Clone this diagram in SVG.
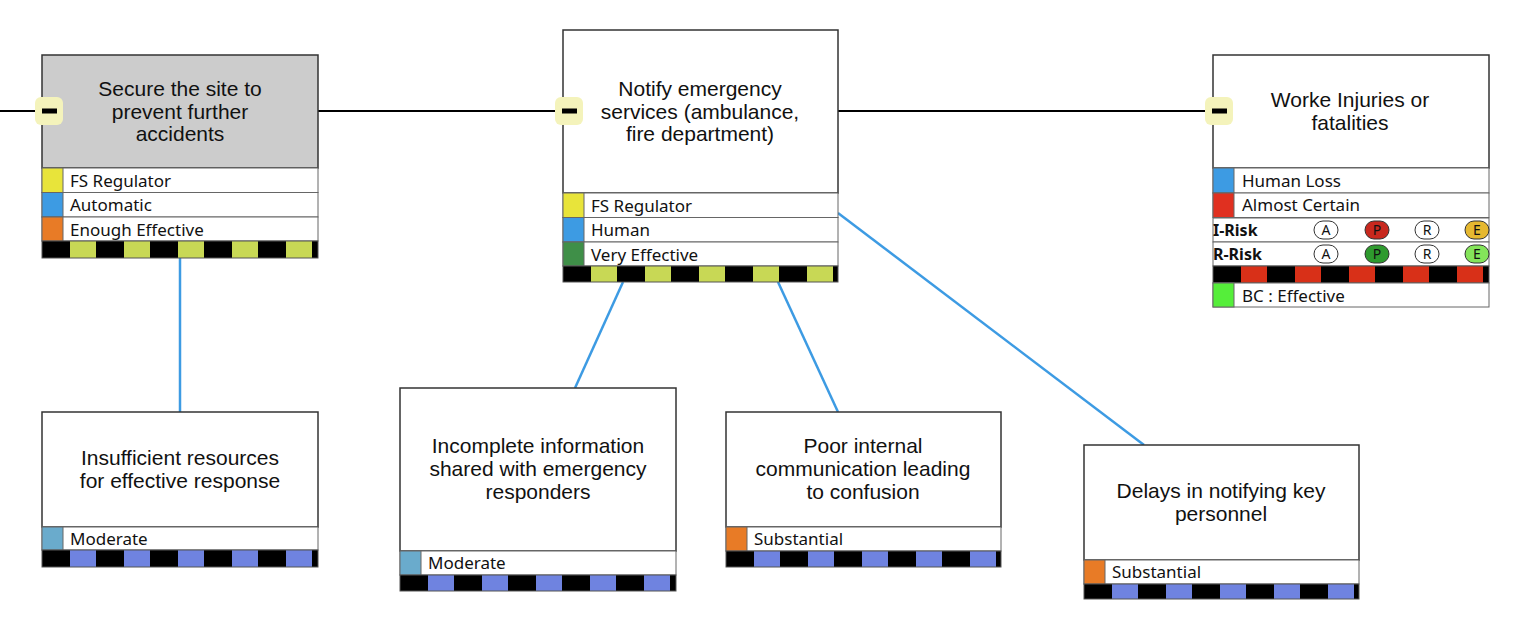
<svg xmlns="http://www.w3.org/2000/svg" width="1514" height="620" viewBox="0 0 1514 620">
<style>
.box{stroke:#333;stroke-width:1.5}
.row{fill:#fff;stroke:#666;stroke-width:1}
.t{font-family:"Liberation Sans",Arial,sans-serif;font-size:21px;fill:#111;text-anchor:middle}
.r{font-family:"Noto Sans","DejaVu Sans",sans-serif;font-size:17px;fill:#111}
.b{font-family:"Noto Sans","DejaVu Sans",sans-serif;font-size:16px;font-weight:bold;fill:#111}
.p{font-family:"Noto Sans","DejaVu Sans",sans-serif;font-size:14px;fill:#111;text-anchor:middle}
.pill{stroke:#333;stroke-width:1}
.badge{fill:#f4f3bb}
.ln{stroke:#3d9be3;stroke-width:2.5;fill:none}
</style>
<defs>
<pattern id="pg1" patternUnits="userSpaceOnUse" x="42" y="0" width="54" height="620"><rect width="54" height="620" fill="#c8d855"/><rect width="28" height="620" fill="#000"/></pattern>
<pattern id="pg2" patternUnits="userSpaceOnUse" x="563" y="0" width="54" height="620"><rect width="54" height="620" fill="#c8d855"/><rect width="28" height="620" fill="#000"/></pattern>
<pattern id="pr3" patternUnits="userSpaceOnUse" x="1213" y="0" width="54" height="620"><rect width="54" height="620" fill="#d83018"/><rect width="28" height="620" fill="#000"/></pattern>
<pattern id="pb1" patternUnits="userSpaceOnUse" x="42" y="0" width="54" height="620"><rect width="54" height="620" fill="#6f83e0"/><rect width="28" height="620" fill="#000"/></pattern>
<pattern id="pb2" patternUnits="userSpaceOnUse" x="400" y="0" width="54" height="620"><rect width="54" height="620" fill="#6f83e0"/><rect width="28" height="620" fill="#000"/></pattern>
<pattern id="pb3" patternUnits="userSpaceOnUse" x="726" y="0" width="54" height="620"><rect width="54" height="620" fill="#6f83e0"/><rect width="28" height="620" fill="#000"/></pattern>
<pattern id="pb4" patternUnits="userSpaceOnUse" x="1084" y="0" width="54" height="620"><rect width="54" height="620" fill="#6f83e0"/><rect width="28" height="620" fill="#000"/></pattern>
</defs>
<rect width="1514" height="620" fill="#fff"/>
<g id="connectors">
<line x1="0" y1="111" x2="1213" y2="111" stroke="#000" stroke-width="2"/>
<line class="ln" x1="180" y1="258" x2="180" y2="412"/>
<line class="ln" x1="623" y1="282" x2="575" y2="388"/>
<line class="ln" x1="778" y1="282" x2="838" y2="412"/>
<line class="ln" x1="838" y1="213" x2="1144" y2="445"/>
</g>
<g id="n1">
<rect class="box" x="42" y="55" width="276" height="113" fill="#cccccc"/>
<text class="t" x="180" y="96">Secure the site to</text>
<text class="t" x="180" y="119">prevent further</text>
<text class="t" x="180" y="141">accidents</text>
<rect class="row" x="42" y="168" width="276" height="24.5"/><rect x="42" y="168" width="21" height="24.5" fill="#e8e43a" stroke="#666"/><text class="r" x="70" y="187">FS Regulator</text>
<rect class="row" x="42" y="192.5" width="276" height="24.5"/><rect x="42" y="192.5" width="21" height="24.5" fill="#3d9be3" stroke="#666"/><text class="r" x="70" y="211">Automatic</text>
<rect class="row" x="42" y="217" width="276" height="24"/><rect x="42" y="217" width="21" height="24" fill="#e87b26" stroke="#666"/><text class="r" x="70" y="236">Enough Effective</text>
<rect x="42" y="241" width="276" height="17" fill="url(#pg1)" stroke="#555"/>
<rect class="badge" x="35" y="97" width="28" height="28" rx="6"/><rect x="42" y="108.5" width="15" height="5" fill="#000"/>
</g>
<g id="n2">
<rect class="box" x="563" y="30" width="275" height="163" fill="#fff"/>
<text class="t" x="700" y="96">Notify emergency</text>
<text class="t" x="700" y="119">services (ambulance,</text>
<text class="t" x="700" y="141">fire department)</text>
<rect class="row" x="563" y="193" width="275" height="24.5"/><rect x="563" y="193" width="21" height="24.5" fill="#e8e43a" stroke="#666"/><text class="r" x="591" y="212">FS Regulator</text>
<rect class="row" x="563" y="217.5" width="275" height="24.5"/><rect x="563" y="217.5" width="21" height="24.5" fill="#3d9be3" stroke="#666"/><text class="r" x="591" y="236">Human</text>
<rect class="row" x="563" y="242" width="275" height="24"/><rect x="563" y="242" width="21" height="24" fill="#3f8f48" stroke="#666"/><text class="r" x="591" y="261">Very Effective</text>
<rect x="563" y="266" width="275" height="16" fill="url(#pg2)" stroke="#555"/>
<rect class="badge" x="555" y="97" width="28" height="28" rx="6"/><rect x="562" y="108.5" width="15" height="5" fill="#000"/>
</g>
<g id="n3">
<rect class="box" x="1213" y="55" width="276" height="113" fill="#fff"/>
<text class="t" x="1350" y="107">Worke Injuries or</text>
<text class="t" x="1350" y="130">fatalities</text>
<rect class="row" x="1213" y="168" width="276" height="25"/><rect x="1213" y="168" width="21" height="25" fill="#3d9be3" stroke="#666"/><text class="r" x="1242" y="187">Human Loss</text>
<rect class="row" x="1213" y="193" width="276" height="24.5"/><rect x="1213" y="193" width="21" height="24.5" fill="#e03020" stroke="#666"/><text class="r" x="1242" y="211">Almost Certain</text>
<rect class="row" x="1213" y="218" width="276" height="24"/><text class="b" x="1213" y="236">I-Risk</text>
<rect class="pill" x="1314" y="221" width="24" height="18" rx="9" fill="#fff"/><text class="p" x="1326" y="235">A</text>
<rect class="pill" x="1365" y="221" width="24" height="18" rx="9" fill="#c8281e"/><text class="p" x="1377" y="235">P</text>
<rect class="pill" x="1415" y="221" width="24" height="18" rx="9" fill="#fff"/><text class="p" x="1427" y="235">R</text>
<rect class="pill" x="1465" y="221" width="24" height="18" rx="9" fill="#e6b830"/><text class="p" x="1477" y="235">E</text>
<rect class="row" x="1213" y="242" width="276" height="24"/><text class="b" x="1213" y="260">R-Risk</text>
<rect class="pill" x="1314" y="245" width="24" height="18" rx="9" fill="#fff"/><text class="p" x="1326" y="259">A</text>
<rect class="pill" x="1365" y="245" width="24" height="18" rx="9" fill="#2e9a2e"/><text class="p" x="1377" y="259">P</text>
<rect class="pill" x="1415" y="245" width="24" height="18" rx="9" fill="#fff"/><text class="p" x="1427" y="259">R</text>
<rect class="pill" x="1465" y="245" width="24" height="18" rx="9" fill="#84e45a"/><text class="p" x="1477" y="259">E</text>
<rect x="1213" y="266" width="276" height="17" fill="url(#pr3)" stroke="#555"/>
<rect class="row" x="1213" y="283" width="276" height="24"/><rect x="1213" y="283" width="21" height="24" fill="#55ee3a" stroke="#666"/><text class="r" x="1242" y="302">BC : Effective</text>
<rect class="badge" x="1205" y="97" width="28" height="28" rx="6"/><rect x="1212" y="108.5" width="15" height="5" fill="#000"/>
</g>
<g id="b1">
<rect class="box" x="42" y="412" width="276" height="115" fill="#fff"/>
<text class="t" x="180" y="465">Insufficient resources</text>
<text class="t" x="180" y="488">for effective response</text>
<rect class="row" x="42" y="527" width="276" height="23"/><rect x="42" y="527" width="21" height="23" fill="#6aabcc" stroke="#666"/><text class="r" x="70" y="545">Moderate</text>
<rect x="42" y="550" width="276" height="17" fill="url(#pb1)" stroke="#555"/>
</g>
<g id="b2">
<rect class="box" x="400" y="388" width="276" height="163" fill="#fff"/>
<text class="t" x="538" y="453">Incomplete information</text>
<text class="t" x="538" y="476">shared with emergency</text>
<text class="t" x="538" y="499">responders</text>
<rect class="row" x="400" y="551" width="276" height="24"/><rect x="400" y="551" width="21" height="24" fill="#6aabcc" stroke="#666"/><text class="r" x="428" y="569">Moderate</text>
<rect x="400" y="575" width="276" height="16" fill="url(#pb2)" stroke="#555"/>
</g>
<g id="b3">
<rect class="box" x="726" y="412" width="275" height="115" fill="#fff"/>
<text class="t" x="863" y="453">Poor internal</text>
<text class="t" x="863" y="476">communication leading</text>
<text class="t" x="863" y="499">to confusion</text>
<rect class="row" x="726" y="527" width="275" height="24"/><rect x="726" y="527" width="21" height="24" fill="#e87b26" stroke="#666"/><text class="r" x="754" y="545">Substantial</text>
<rect x="726" y="551" width="275" height="16" fill="url(#pb3)" stroke="#555"/>
</g>
<g id="b4">
<rect class="box" x="1084" y="445" width="275" height="115" fill="#fff"/>
<text class="t" x="1221" y="498">Delays in notifying key</text>
<text class="t" x="1221" y="521">personnel</text>
<rect class="row" x="1084" y="560" width="275" height="24"/><rect x="1084" y="560" width="21" height="24" fill="#e87b26" stroke="#666"/><text class="r" x="1112" y="578">Substantial</text>
<rect x="1084" y="584" width="275" height="15" fill="url(#pb4)" stroke="#555"/>
</g>
</svg>
